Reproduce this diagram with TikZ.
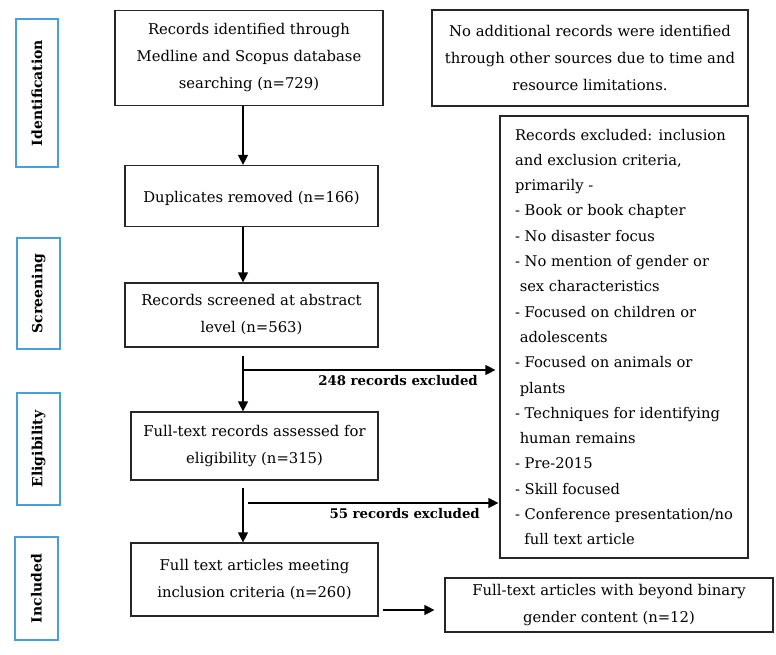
\documentclass[tikz,border=0pt]{standalone}
\usepackage{fontspec}
\setmainfont{DejaVu Serif}
\usetikzlibrary{arrows.meta}
\definecolor{lblue}{RGB}{72,160,218}
\newcommand{\mainfs}{\fontsize{14.8}{27}\selectfont}
\newcommand{\exfs}{\fontsize{14.7}{25.3}\selectfont}
\begin{document}
\begin{tikzpicture}[x=1pt,y=-1pt,
  box/.style={draw=black!85, line width=1.2pt, align=center, inner sep=0pt, font=\mainfs, execute at begin node={\rule{0pt}{17pt}}},
  stage/.style={draw=lblue, line width=1.3pt, rotate=90, inner sep=0pt, font=\fontsize{14}{18}\selectfont\bfseries},
  arr/.style={line width=1.2pt, -{Triangle[length=10pt,width=10pt]}},
  lbl/.style={font=\fontsize{13.3}{16}\selectfont\bfseries, inner sep=0pt}]
\useasboundingbox (0,0) rectangle (776,655);
% stage labels
\node[stage, minimum width=148pt, minimum height=42pt] (sid) at (37,93) {Identification};
\node[stage, minimum width=111pt, minimum height=43pt] (ssc) at (38.5,293.5) {Screening};
\node[stage, minimum width=112pt, minimum height=43pt] (sel) at (38.5,449) {Eligibility};
\node[stage, minimum width=103pt, minimum height=43pt] (sin) at (36.5,588.5) {Included};
% main boxes
\node[box, minimum width=268pt, minimum height=95pt] (b1) at (249,58) {Records identified through\\Medline and Scopus database\\searching (n=729)};
\node[box, minimum width=253pt, minimum height=61pt] (b2) at (251.5,196) {Duplicates removed (n=166)};
\node[box, minimum width=253pt, minimum height=64pt] (b3) at (251.5,315) {Records screened at abstract\\level (n=563)};
\node[box, minimum width=247pt, minimum height=68pt] (b4) at (254.5,446) {Full-text records assessed for\\eligibility (n=315)};
\node[box, minimum width=247pt, minimum height=73pt] (b5) at (254.5,579.5) {Full text articles meeting\\inclusion criteria (n=260)};
\node[box, minimum width=316pt, minimum height=96pt] (t) at (590,58) {No additional records were identified\\through other sources due to time and\\resource limitations.};
\node[box, minimum width=248pt, minimum height=442pt, align=left, font=\exfs, inner xsep=10pt] (ex) at (624,337) {%
Records excluded: inclusion\\
and exclusion criteria,\\
primarily -\\
- Book or book chapter\\
- No disaster focus\\
- No mention of gender or\\
\ sex characteristics\\
- Focused on children or\\
\ adolescents\\
- Focused on animals or\\
\ plants\\
- Techniques for identifying\\
\ human remains\\
- Pre-2015\\
- Skill focused\\
- Conference presentation/no\\
\ \ full text article};
\node[box, minimum width=328pt, minimum height=54pt] (fin) at (609,605) {Full-text articles with beyond binary\\gender content (n=12)};
% connectors
\coordinate (ax) at (243,0);
\draw[arr] (b1.south -| ax) -- (b2.north -| ax);
\draw[arr] (b2.south -| ax) -- (b3.north -| ax);
\draw[arr] ([yshift=-8pt]b3.south -| ax) -- (b4.north -| ax);
\draw[arr] ([yshift=-7pt]b4.south -| ax) -- (b5.north -| ax);
\coordinate (j1) at (243,370);
\coordinate (j2) at (248,503);
\draw[arr, shorten >=4pt] (j1) -- (ex.west |- j1);
\draw[arr, shorten >=1pt] (j2) -- (ex.west |- j2);
\node[lbl, anchor=base east] (l1) at (478,385) {248 records excluded};
\node[lbl, anchor=base east] (l2) at (480,518) {55 records excluded};
\coordinate (j3) at (383,610);
\draw[arr, shorten >=10pt] (j3) -- (fin.west |- j3);
\end{tikzpicture}
\end{document}
